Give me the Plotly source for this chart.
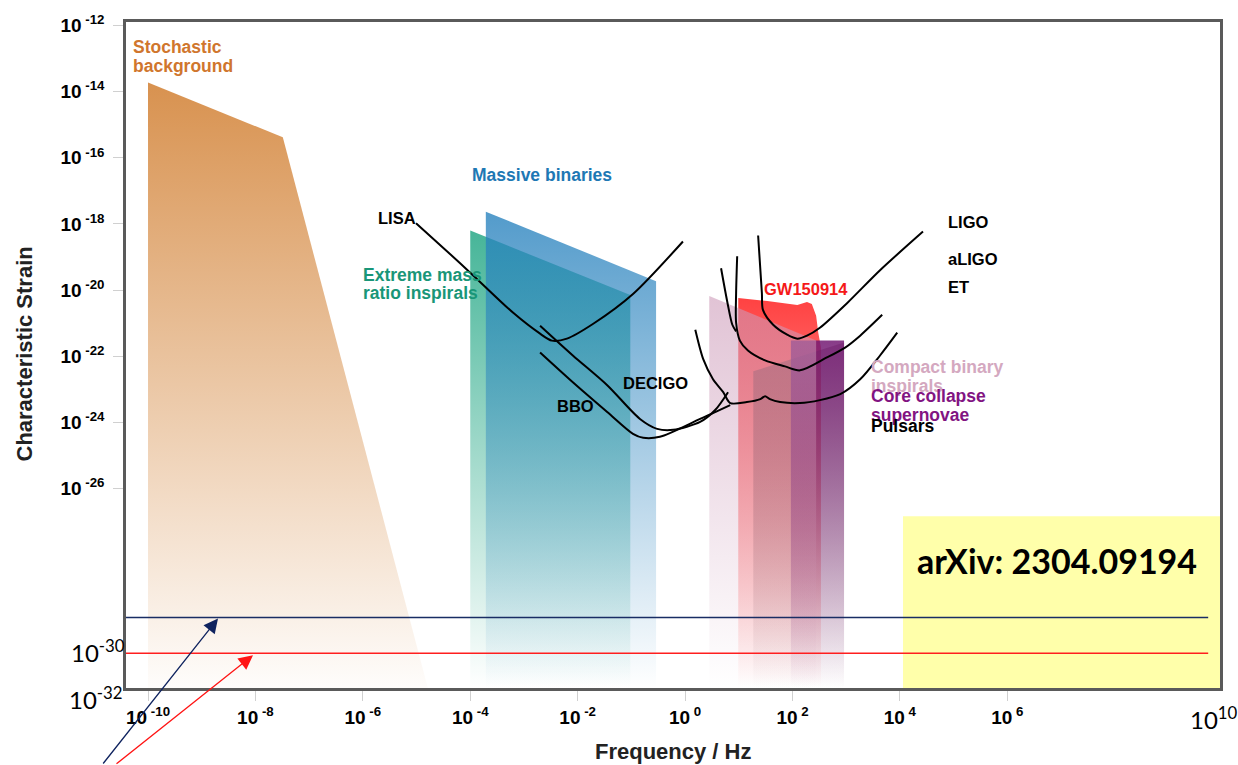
import numpy as np
import plotly.graph_objects as go

# ---------------- axis ranges (log10 units) ----------------
X_RANGE = [-10.41, 9.96]
Y_RANGE = [-32.04, -11.89]
H_FLOOR = -32.04

x_tick_exps = [-10, -8, -6, -4, -2, 0, 2, 4, 6]
y_tick_exps = [-12, -14, -16, -18, -20, -22, -24, -26]

# ---------------- source regions (log10 f [Hz], log10 h) ----------------
stoch_lf = [-10.0, -7.49, -4.79, -10.0]
stoch_lh = [-13.72, -15.38, H_FLOOR, H_FLOOR]

emri_lf = [-4.00, -1.02, -1.02, -4.00]
emri_lh = [-18.20, -20.15, H_FLOOR, H_FLOOR]

massive_lf = [-3.71, -0.54, -0.54, -3.71]
massive_lh = [-17.63, -19.73, H_FLOOR, H_FLOOR]

gw_lf = [0.99, 1.53, 2.09, 2.27, 2.36, 2.44, 2.48, 2.53, 2.53, 0.99]
gw_lh = [-20.24, -20.33, -20.45, -20.36, -20.42, -20.78, -21.29, -21.74, H_FLOOR, H_FLOOR]

pulsar_lf = [1.27, 2.96, 2.96, 1.27]
pulsar_lh = [-22.46, -21.59, H_FLOOR, H_FLOOR]

sn_lf = [1.97, 2.96, 2.96, 1.97]
sn_lh = [-21.53, -21.53, H_FLOOR, H_FLOOR]

cbc_lf = [0.45, 2.44, 2.44, 0.45]
cbc_lh = [-20.18, -21.53, H_FLOOR, H_FLOOR]

# ---------------- detector sensitivity curves ----------------
lisa_lf = [-5.01, -4.47, -3.95, -3.20, -2.70, -2.48, -2.20, -1.71, -0.97, -0.04]
lisa_lh = [-17.98, -18.77, -19.55, -20.69, -21.32, -21.53, -21.47, -21.02, -20.12, -18.53]

decigo_lf = [-2.70, -2.09, -1.45, -0.84, -0.52, -0.22, 0.28, 0.56, 0.80]
decigo_lh = [-21.08, -21.98, -22.88, -23.90, -24.20, -24.23, -23.99, -23.63, -23.09]

bbo_lf = [-2.70, -2.09, -1.45, -0.97, -0.78, -0.47, 0.28, 0.84]
bbo_lh = [-21.89, -22.79, -23.69, -24.35, -24.47, -24.44, -23.90, -23.48]

ligo_lf = [1.36, 1.43, 1.45, 1.64, 1.90, 2.09, 2.27, 2.51, 3.02, 3.63, 4.43]
ligo_lh = [-18.35, -20.09, -20.60, -21.05, -21.35, -21.47, -21.38, -21.14, -20.39, -19.40, -18.23]

aligo_lf = [0.97, 0.95, 0.95, 1.02, 1.17, 1.49, 1.86, 2.14, 2.64, 2.98, 3.26, 3.67]
aligo_lh = [-18.98, -20.09, -20.99, -21.53, -21.83, -22.13, -22.31, -22.43, -22.04, -21.74, -21.38, -20.75]

aligo_arm_lf = [0.67, 0.79, 0.88, 0.95]
aligo_arm_lh = [-19.34, -20.39, -21.05, -21.25]

et_lf = [0.19, 0.34, 0.52, 0.71, 0.84, 1.15, 1.40, 1.49, 1.58, 1.77, 2.14, 2.51, 2.89, 3.26, 3.63, 3.95]
et_lh = [-21.20, -22.10, -22.70, -23.09, -23.42, -23.39, -23.30, -23.21, -23.30, -23.39, -23.42, -23.33, -23.15, -22.70, -21.98, -21.29]

# horizontal reference levels
blue_level = -29.91
red_level = -30.99
level_lf = [-10.45, 9.74]

fig = go.Figure()


def add_band(lf, lh, rgb, a_top, a_bot=0.0):
    fig.add_trace(go.Scatter(
        x=10 ** np.array(lf), y=10 ** np.array(lh), mode="lines",
        line=dict(width=0, color="rgba(0,0,0,0)"), fill="toself",
        fillgradient=dict(type="vertical",
                          colorscale=[[0, f"rgba({rgb},{a_bot})"], [1, f"rgba({rgb},{a_top})"]]),
        hoverinfo="skip", showlegend=False))


def add_curve(lf, lh, color="black", width=2.0, shape="spline"):
    fig.add_trace(go.Scatter(
        x=10 ** np.array(lf), y=10 ** np.array(lh), mode="lines",
        line=dict(color=color, width=width, shape=shape, smoothing=0.8),
        hoverinfo="skip", showlegend=False))


add_band(stoch_lf, stoch_lh, "214,140,70", 0.95, 0.02)
add_band(emri_lf, emri_lh, "30,165,130", 0.82)
add_band(massive_lf, massive_lh, "40,130,190", 0.8)
add_band(gw_lf, gw_lh, "255,40,40", 0.88)
add_band(pulsar_lf, pulsar_lh, "100,60,70", 0.5)
add_band(sn_lf, sn_lh, "115,25,115", 0.85)
add_band(cbc_lf, cbc_lh, "205,155,185", 0.6)

add_curve(lisa_lf, lisa_lh)
add_curve(decigo_lf, decigo_lh)
add_curve(bbo_lf, bbo_lh)
add_curve(ligo_lf, ligo_lh)
add_curve(aligo_lf, aligo_lh)
add_curve(aligo_arm_lf, aligo_arm_lh)
add_curve(et_lf, et_lh)

add_curve(level_lf, [blue_level, blue_level], color="rgb(25,45,100)", width=1.5, shape="linear")
add_curve(level_lf, [red_level, red_level], color="rgb(255,30,30)", width=1.5, shape="linear")


# ---------------- layout helpers (pixel -> paper) ----------------
L, R, T, B = 126, 18, 17, 77
W, H = 1238, 765
PW, PH = W - L - R, H - T - B


def px(x):
    return (x - L) / PW


def py(y):
    return (H - B - y) / PH


annotations = []


def label(text, x, y, color="black", size=17.5, xanchor="center", family="Liberation Sans, Arial", bold=True):
    t = f"<b>{text}</b>" if bold else text
    annotations.append(dict(text=t, x=px(x), y=py(y), xref="paper", yref="paper",
                            xanchor=xanchor, yanchor="middle", showarrow=False,
                            font=dict(family=family, size=size, color=color)))


label("Stochastic", 131, 42, color="rgb(208,118,45)", xanchor="left")
label("background", 131, 61, color="rgb(208,118,45)", xanchor="left")
label("Massive binaries", 542, 171, color="rgb(30,120,180)")
label("LISA", 397, 214, size=16.5)
label("Extreme mass", 361, 272, color="rgb(25,150,120)", xanchor="left")
label("ratio inspirals", 361, 290, color="rgb(25,150,120)", xanchor="left")
label("DECIGO", 655, 381, size=16.5)
label("BBO", 575, 404, size=16.5)
label("GW150914", 806, 286, color="rgb(245,25,25)", size=16.5)
label("LIGO", 946, 218, size=16.5, xanchor="left")
label("aLIGO", 946, 256, size=16.5, xanchor="left")
label("ET", 946, 284, size=16.5, xanchor="left")
label("Compact binary", 869, 365, color="rgb(212,168,192)", xanchor="left")
label("inspirals", 869, 384, color="rgb(212,168,192)", xanchor="left")
label("Core collapse", 869, 394, color="rgb(130,20,130)", xanchor="left")
label("supernovae", 869, 413, color="rgb(130,20,130)", xanchor="left")
label("Pulsars", 869, 424, xanchor="left")

# axis titles
annotations.append(dict(text="<b>Frequency / Hz</b>", x=px(673), y=py(752), xref="paper", yref="paper",
                        showarrow=False, xanchor="center", yanchor="middle",
                        font=dict(family="Liberation Sans, Arial", size=22, color="#222")))
annotations.append(dict(text="<b>Characteristic Strain</b>", x=px(25), y=py(352), xref="paper", yref="paper",
                        showarrow=False, xanchor="center", yanchor="middle", textangle=-90,
                        font=dict(family="Liberation Sans, Arial", size=22, color="#222")))

# extra plain power labels
label("10<sup>-30</sup>", 69, 651, size=24, xanchor="left", family="Lato, Carlito, sans-serif", bold=False)
label("10<sup>-32</sup>", 67, 698, size=24, xanchor="left", family="Lato, Carlito, sans-serif", bold=False)
label("10<sup>10</sup>", 1188, 718, size=24, xanchor="left", family="Lato, Carlito, sans-serif", bold=False)

# arXiv box text
annotations.append(dict(text="<b>arXiv: 2304.09194</b>", x=px(1057), y=py(560), xref="paper", yref="paper",
                        showarrow=False, xanchor="center", yanchor="middle",
                        font=dict(family="Lato, Carlito, sans-serif", size=34, color="black")))

# arrows
annotations.append(dict(text="", x=px(218), y=py(618), xref="paper", yref="paper",
                        ax=-116, ay=147, showarrow=True, arrowhead=2, arrowsize=2.2,
                        arrowwidth=1.3, arrowcolor="rgb(15,35,95)", standoff=0))
annotations.append(dict(text="", x=px(253), y=py(655), xref="paper", yref="paper",
                        ax=-138, ay=110, showarrow=True, arrowhead=2, arrowsize=2.2,
                        arrowwidth=1.3, arrowcolor="rgb(255,20,20)", standoff=0))

shapes = [dict(type="rect", xref="paper", yref="paper", x0=px(903), x1=1.0, y0=0.0, y1=py(515),
               fillcolor="rgb(255,255,170)", line=dict(width=0), layer="below")]

axis_common = dict(type="log", showgrid=False, zeroline=False, showline=True, linecolor="#5a5a5a",
                   linewidth=2.5, mirror=True, ticks="outside", ticklen=10, tickwidth=1,
                   tickcolor="#d0d0d0",
                   tickfont=dict(family="Liberation Sans, Arial", size=19, color="black"))

fig.update_layout(
    width=W, height=H, margin=dict(l=L, r=R, t=T, b=B),
    plot_bgcolor="white", paper_bgcolor="white", showlegend=False,
    xaxis=dict(range=X_RANGE, tickvals=[10.0 ** e for e in x_tick_exps],
               ticktext=[f"<b>10<sup> {e}</sup></b>" for e in x_tick_exps], **axis_common),
    yaxis=dict(range=Y_RANGE, tickvals=[10.0 ** e for e in y_tick_exps],
               ticktext=[f"<b>10<sup> {e}</sup></b>" for e in y_tick_exps],
               ticklabelstandoff=5, **axis_common),
    annotations=annotations, shapes=shapes,
)

fig.write_html("out.html")
